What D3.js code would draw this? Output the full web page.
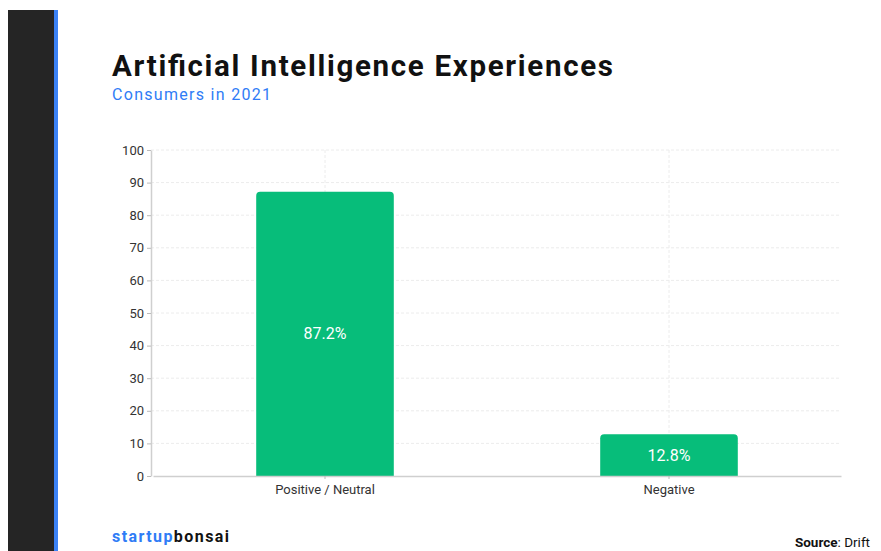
<!DOCTYPE html>
<html><head><meta charset="utf-8">
<script src="https://cdn.jsdelivr.net/npm/d3@7"></script>
<style>body{margin:0;background:#fff;}svg{display:block;font-family:Roboto,"Open Sans",sans-serif;}</style>
</head><body>
<script>
const categories = ["Positive / Neutral", "Negative"];
const values = [87.2, 12.8];
const yTicks = [0,10,20,30,40,50,60,70,80,90,100];

const W = 881, H = 551;
const svg = d3.select("body").append("svg").attr("width", W).attr("height", H);

// left decoration
svg.append("rect").attr("x",8).attr("y",10).attr("width",46).attr("height",H-10).attr("fill","#252525");
svg.append("rect").attr("x",54).attr("y",10).attr("width",4).attr("height",H-10).attr("fill","#3b82f6");

svg.append("text").attr("x",112).attr("y",76).attr("font-size",29.5).attr("font-weight",700)
  .attr("fill","#111").attr("textLength",501).attr("lengthAdjust","spacing").text("Artificial Intelligence Experiences");
svg.append("text").attr("x",112).attr("y",100).attr("font-size",16).attr("fill","#2f7cf6")
  .attr("textLength",159).attr("lengthAdjust","spacing").text("Consumers in 2021");

const x0 = 151, x1 = 841, yTop = 150, yBot = 476;
const x = d3.scaleBand().domain(categories).range([x0+2,x1]).paddingInner(0.6).paddingOuter(0.3);
const y = d3.scaleLinear().domain([0,100]).range([yBot,yTop]);

// grid
const g = svg.append("g");
g.selectAll(".hg").data(yTicks.filter(d=>d>0)).join("line")
  .attr("x1",x0).attr("x2",x1).attr("y1",d=>y(d)).attr("y2",d=>y(d))
  .attr("stroke","#ececec").attr("stroke-dasharray","3,2");
g.selectAll(".vg").data(categories).join("line")
  .attr("x1",d=>x(d)+x.bandwidth()/2).attr("x2",d=>x(d)+x.bandwidth()/2)
  .attr("y1",yTop).attr("y2",yBot).attr("stroke","#ececec").attr("stroke-dasharray","3,2");

// bars with rounded top
const r = 4;
svg.selectAll(".bar").data(values).join("path")
  .attr("fill","#07bd7a")
  .attr("d",(d,i)=>{
    const bx = x(categories[i]), bw = x.bandwidth(), by = y(d), bh = yBot - by;
    return `M${bx},${yBot}V${by+r}Q${bx},${by} ${bx+r},${by}H${bx+bw-r}Q${bx+bw},${by} ${bx+bw},${by+r}V${yBot}Z`;
  });

svg.selectAll(".val").data(values).join("text")
  .attr("x",(d,i)=>x(categories[i])+x.bandwidth()/2)
  .attr("y",d=>(y(d)+yBot)/2).attr("dy","0.35em")
  .attr("text-anchor","middle").attr("fill","#fff").attr("font-size",16)
  .text(d=>d.toFixed(1)+"%");

// axes
const yAxis = svg.append("g").attr("transform",`translate(${x0},0)`)
  .call(d3.axisLeft(y).tickValues(yTicks).tickSize(4).tickSizeOuter(0));
yAxis.select(".domain").attr("stroke","#cfcfcf").attr("stroke-width",1.5);
yAxis.selectAll(".tick line").attr("stroke","#bbb");
yAxis.selectAll("text").attr("font-size",13).attr("fill","#333").attr("font-family","Roboto");

const xAxis = svg.append("g").attr("transform",`translate(0,${yBot})`)
  .call(d3.axisBottom(x).tickSize(3).tickSizeOuter(0).tickPadding(6));
xAxis.select(".domain").attr("stroke","#cfcfcf").attr("stroke-width",1.5);
xAxis.selectAll(".tick line").attr("stroke","#bbb");
xAxis.selectAll("text").attr("font-size",13).attr("fill","#333").attr("font-family","Roboto");

// footer
const ft = svg.append("text").attr("x",112).attr("y",542).attr("font-size",16).attr("font-weight",700)
  .attr("textLength",117).attr("lengthAdjust","spacing");
ft.append("tspan").attr("fill","#2f7cf6").text("startup");
ft.append("tspan").attr("fill","#111").text("bonsai");

const src = svg.append("text").attr("x",870).attr("y",547).attr("text-anchor","end").attr("font-size",13.5).attr("fill","#111");
src.append("tspan").attr("font-weight",700).text("Source");
src.append("tspan").text(": Drift");
</script>
</body></html>
